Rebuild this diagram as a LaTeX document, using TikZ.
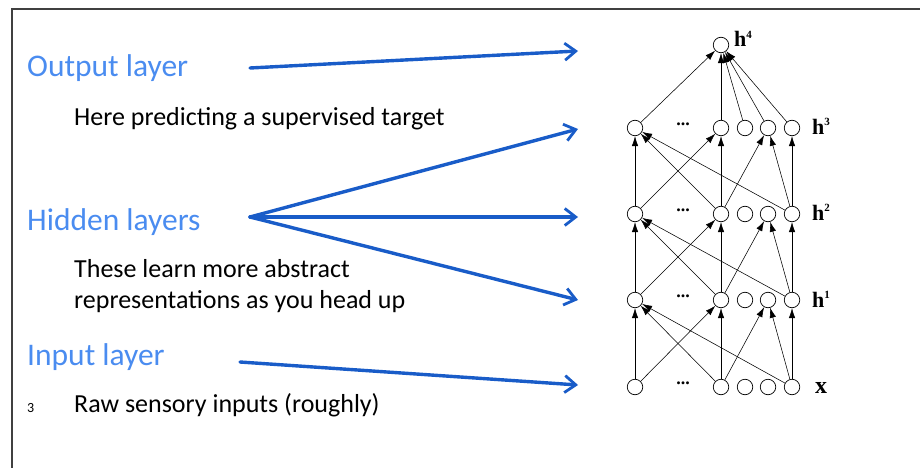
\documentclass[tikz,border=0pt]{standalone}
\usepackage{fontspec}
\setmainfont{Carlito}
\newfontfamily\netfont{Liberation Serif}
\usetikzlibrary{arrows.meta}
\definecolor{headblue}{RGB}{74,140,240}
\definecolor{arrblue}{RGB}{25,92,200}
\newcommand{\supnum}[1]{\raisebox{0.8ex}{\fontsize{11}{12}\selectfont #1}}
\begin{document}
\begin{tikzpicture}[x=1pt,y=-1pt,
  unit/.style={circle,draw,line width=0.7pt,minimum size=15.5pt,inner sep=0pt},
  conn/.style={line width=0.55pt,-{Latex[length=10pt,width=6.5pt]}},
  bluearrow/.style={arrblue,line width=3.4pt,line cap=round,-{Straight Barb[length=11pt,width=17pt,line width=2.8pt]}},
  heading/.style={anchor=base west,inner sep=0pt,text=headblue,font=\fontsize{31.5}{37}\selectfont},
  body/.style={anchor=base west,inner sep=0pt,font=\fontsize{26}{31}\selectfont},
  lab/.style={anchor=base west,inner sep=0pt,font=\netfont\bfseries\fontsize{22}{24}\selectfont},
  dots/.style={inner sep=0pt,font=\netfont\bfseries\fontsize{18}{20}\selectfont}
]
\useasboundingbox (0,0) rectangle (920,468);
\draw[black!75,line width=1.2pt] (12,468) -- (12,9) -- (920,9);

% texts
\node[heading] (tout) at (27,77) {Output layer};
\node[body] (tout2) at (74,125) {Here predicting a supervised target};
\node[heading] (thid) at (27,230) {Hidden layers};
\node[body] (thid2) at (74,277) {These learn more abstract};
\node[body] (thid3) at (74,308) {representations as you head up};
\node[heading] (tin) at (27,365) {Input layer};
\node[anchor=base west,inner sep=0pt,font=\fontsize{14}{16}\selectfont] (pnum) at (27,412) {3};
\node[body] (tin2) at (74,412) {Raw sensory inputs (roughly)};

% blue arrows
\coordinate (oa) at (250,68);
\coordinate (ob) at (578,51);
\coordinate (ha) at (250,217);
\coordinate (hb1) at (578,129);
\coordinate (hb2) at (578,217);
\coordinate (hb3) at (578,300);
\coordinate (ia) at (240,362);
\coordinate (ib) at (578,385);
\draw[bluearrow] (oa) -- (ob);
\draw[bluearrow] (ha) -- (hb1);
\draw[bluearrow] (ha) -- (hb2);
\draw[bluearrow] (ha) -- (hb3);
\draw[bluearrow] (ia) -- (ib);

% network
\node[unit] (t) at (721,45) {};
\foreach \r/\y in {3/128,2/214,1/300,0/387}{
  \foreach \i/\x in {0/635,1/721,2/745,3/768,4/792}{
    \node[unit] (n\r\i) at (\x,\y) {};
  }
  \node[dots] (d\r) at (683,\y-4) {...};
}
\foreach \r in {0,1,2}{
  \pgfmathtruncatemacro{\s}{\r+1}
  \draw[conn] (n\r0) -- (n\s0);
  \draw[conn] (n\r0) -- (n\s1);
  \draw[conn] (n\r1) -- (n\s0);
  \draw[conn] (n\r1) -- (n\s1);
  \draw[conn] (n\r1) -- (n\s3);
  \draw[conn] (n\r4) -- (n\s0);
  \draw[conn] (n\r4) -- (n\s3);
  \draw[conn] (n\r4) -- (n\s4);
}
\foreach \i in {0,1,2,3,4}{
  \draw[conn] (n3\i) -- (t);
}
\node[lab] (l4) at (734,47) {h\supnum{4}};
\node[lab] (l3) at (812,134) {h\supnum{3}};
\node[lab] (l2) at (812,220) {h\supnum{2}};
\node[lab] (l1) at (812,307) {h\supnum{1}};
\node[lab,font=\netfont\bfseries\fontsize{24}{26}\selectfont] (l0) at (815,393) {x};
\end{tikzpicture}
\end{document}
